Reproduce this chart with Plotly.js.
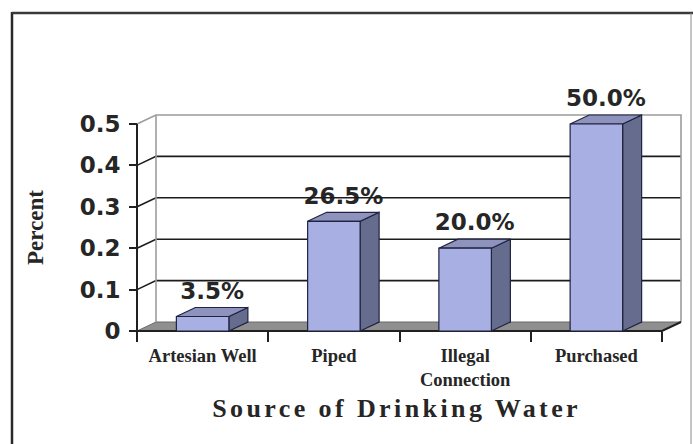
<!DOCTYPE html>
<html>
<head>
<meta charset="utf-8">
<script src="https://cdn.plot.ly/plotly-3.0.1.min.js"></script>
<style>
  html, body { margin: 0; padding: 0; background: #ffffff; }
  #chart { width: 693px; height: 444px; }
  .annotation[data-index="0"] .annotation-text { letter-spacing: 3.4px; }
</style>
</head>
<body>
<div id="chart"></div>
<script>
// ---- data ----
const categories = ['Artesian Well', 'Piped', 'Illegal<br>Connection', 'Purchased'];
const shares = [0.035, 0.265, 0.20, 0.50];
const yTickValues = [0, 0.1, 0.2, 0.3, 0.4, 0.5];
const yTickText = ['0', '0.1', '0.2', '0.3', '0.4', '0.5'];
const barLabels = shares.map(v => (v * 100).toFixed(1) + '%');

// ---- geometry of the pseudo-3D box ----
const W = 693, H = 444;
const catPx = 131.25;        // pixels per category
const valPx = 414;           // pixels per unit of share
const depthX = 19, depthY = 9; // depth offset of the back wall, px
const pad = 4;               // keeps edge lines clear of the clip box
const frontLeft = 137, frontBottom = 331;

const n = categories.length;
const dx = depthX / catPx, dy = depthY / valPx;
const x0 = -0.5, x1 = n - 0.5;
const yTop = yTickValues[yTickValues.length - 1];
const xRange = [x0 - pad / catPx, x1 + dx + pad / catPx];
const yRange = [-pad / valPx, yTop + dy + pad / valPx];
const mL = frontLeft - pad;
const mB = H - frontBottom - pad;
const plotW = (xRange[1] - xRange[0]) * catPx;
const plotH = (yRange[1] - yRange[0]) * valPx;
const mR = W - mL - plotW;
const mT = H - mB - plotH;
const paperX = px => (px - mL) / plotW;
const paperY = py => (H - mB - py) / plotH;

const halfW = 0.2;           // half bar width in category units
const labelLift = 3 / valPx; // small gap between bar top and its label

function seg(list) {         // join polygons/segments with gaps
  const xs = [], ys = [];
  list.forEach(p => { xs.push(...p[0], null); ys.push(...p[1], null); });
  return [xs, ys];
}

// floor
const floor = {
  x: [x0, x1, x1 + dx, x0 + dx, x0], y: [0, 0, dy, dy, 0],
  mode: 'lines', fill: 'toself', fillcolor: '#8f8f8f',
  line: { color: '#6a6a6a', width: 1 }, hoverinfo: 'skip'
};

// value labels (drawn under the wall lines)
const labelTrace = {
  x: shares.map((v, i) => i + dx / 2),
  y: shares.map(v => v + dy + labelLift),
  mode: 'text', text: barLabels, textposition: 'top center',
  textfont: { family: 'DejaVu Sans', size: 23, color: '#262626', weight: 700 },
  cliponaxis: false, hoverinfo: 'skip'
};

// dark gridlines on back wall and left wall
const inner = yTickValues.filter(v => v > 0 && v < yTop);
const gridSegs = [];
inner.forEach(v => {
  gridSegs.push([[x0, x0 + dx, x1 + dx], [v, v + dy, v + dy]]);
});
const [gx, gy] = seg(gridSegs);
const grid = { x: gx, y: gy, mode: 'lines', line: { color: '#1c1c1c', width: 1.6 }, hoverinfo: 'skip' };

// light outline of the walls
const [ex, ey] = seg([
  [[x0, x0 + dx, x1 + dx, x1 + dx], [yTop, yTop + dy, yTop + dy, dy]],
  [[x0 + dx, x0 + dx], [dy, yTop + dy]]
]);
const wallEdges = { x: ex, y: ey, mode: 'lines', line: { color: '#9c9c9c', width: 1.6 }, hoverinfo: 'skip' };

// front axis and floor front edge
const [ax, ay] = seg([
  [[x0, x0], [0, yTop]],
  [[x0, x1, x1 + dx], [0, 0, dy]]
]);
const axes = { x: ax, y: ay, mode: 'lines', line: { color: '#202020', width: 2 }, hoverinfo: 'skip' };

// bars: side, top and front faces
const sides = [], tops = [], fronts = [];
shares.forEach((v, i) => {
  const l = i - halfW, r = i + halfW;
  fronts.push([[l, r, r, l, l], [0, 0, v, v, 0]]);
  sides.push([[r, r + dx, r + dx, r, r], [0, dy, v + dy, v, 0]]);
  tops.push([[l, r, r + dx, l + dx, l], [v, v, v + dy, v + dy, v]]);
});
function faceTrace(list, color) {
  const [fx, fy] = seg(list);
  return { x: fx, y: fy, mode: 'lines', fill: 'toself', fillcolor: color,
           line: { color: '#1f2340', width: 1.2 }, hoverinfo: 'skip' };
}

const data = [floor, labelTrace, grid, wallEdges, axes,
  faceTrace(sides, '#666c8e'), faceTrace(tops, '#8d93bd'), faceTrace(fronts, '#a8afe3')];

const serifBold = { family: 'Liberation Serif', color: '#262626', weight: 700 };

const layout = {
  width: W, height: H,
  margin: { l: mL, r: mR, t: mT, b: mB },
  paper_bgcolor: '#ffffff', plot_bgcolor: '#ffffff',
  showlegend: false,
  xaxis: {
    range: xRange, anchor: 'free',
    position: (0 - yRange[0]) / (yRange[1] - yRange[0]),
    showgrid: false, zeroline: false, showline: false,
    tickmode: 'array', tickvals: categories.map((c, i) => i), ticktext: categories,
    ticks: '', ticklabelstandoff: 11,
    tickfont: Object.assign({ size: 18.5 }, serifBold),
    minor: { tickmode: 'array', tickvals: categories.map((c, i) => i - 0.5).concat([x1]),
             ticks: 'outside', ticklen: 10, tickwidth: 2, tickcolor: '#202020', showgrid: false }
  },
  yaxis: {
    range: yRange, anchor: 'free',
    position: (x0 - xRange[0]) / (xRange[1] - xRange[0]),
    showgrid: false, zeroline: false, showline: false,
    tickmode: 'array', tickvals: yTickValues, ticktext: yTickText,
    ticks: 'outside', ticklen: 8, tickwidth: 2, tickcolor: '#202020',
    ticklabelstandoff: 4,
    tickfont: { family: 'DejaVu Sans', size: 23, color: '#262626', weight: 700 }
  },
  annotations: [{
    text: 'Source of Drinking Water', xref: 'paper', yref: 'paper',
    x: paperX(396), y: paperY(408), xanchor: 'center', yanchor: 'middle',
    showarrow: false, font: Object.assign({ size: 26 }, serifBold)
  }, {
    text: 'Percent', xref: 'paper', yref: 'paper', textangle: -90,
    x: paperX(35), y: paperY(228), xanchor: 'center', yanchor: 'middle',
    showarrow: false, font: Object.assign({ size: 23 }, serifBold)
  }],
  shapes: [
    { type: 'line', xref: 'paper', yref: 'paper', x0: paperX(12), x1: paperX(12), y0: paperY(12), y1: paperY(H + 5),
      line: { color: '#2a2a2a', width: 2.5 } },
    { type: 'line', xref: 'paper', yref: 'paper', x0: paperX(12), x1: paperX(W + 5), y0: paperY(13), y1: paperY(13),
      line: { color: '#3a3a3a', width: 2.5 } },
    { type: 'line', xref: 'paper', yref: 'paper', x0: paperX(691), x1: paperX(691), y0: paperY(13), y1: paperY(H + 5),
      line: { color: '#8a8a8a', width: 1 } }
  ]
};

Plotly.newPlot('chart', data, layout, { staticPlot: true, displayModeBar: false });
</script>
</body>
</html>
